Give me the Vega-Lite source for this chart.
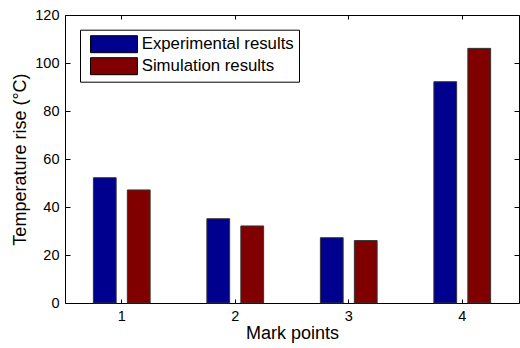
{
  "$schema": "https://vega.github.io/schema/vega-lite/v6.json",
  "width": 454,
  "height": 288,
  "autosize": {"type": "none"},
  "padding": {"left": 65, "top": 15, "right": 1, "bottom": 45},
  "background": "white",
  "config": {
    "view": {"stroke": "black", "strokeWidth": 1},
    "font": "Liberation Sans",
    "axis": {
      "labelFont": "Liberation Sans",
      "titleFont": "Liberation Sans",
      "labelColor": "black",
      "titleColor": "black",
      "tickColor": "black",
      "tickWidth": 1,
      "grid": false,
      "domain": false,
      "titleFontWeight": "normal"
    }
  },
  "data": {
    "values": [
      {"point": "1", "series": "Experimental results", "value": 52.2},
      {"point": "1", "series": "Simulation results", "value": 47.1},
      {"point": "2", "series": "Experimental results", "value": 35.1},
      {"point": "2", "series": "Simulation results", "value": 32.1},
      {"point": "3", "series": "Experimental results", "value": 27.2},
      {"point": "3", "series": "Simulation results", "value": 26.0},
      {"point": "4", "series": "Experimental results", "value": 92.2},
      {"point": "4", "series": "Simulation results", "value": 106.1}
    ]
  },
  "layer": [
    {
      "mark": {"type": "bar", "stroke": "#333", "strokeWidth": 1},
      "encoding": {
        "x": {
          "field": "point",
          "type": "nominal",
          "scale": {"paddingInner": 0.5, "paddingOuter": 0.25},
          "axis": {
            "orient": "bottom",
            "labelAngle": 0,
            "bandPosition": 0.5,
            "tickSize": -4,
            "labelPadding": 10,
            "labelFontSize": 14.5,
            "title": "Mark points",
            "titleFontSize": 18,
            "titlePadding": 2
          }
        },
        "xOffset": {
          "field": "series",
          "type": "nominal",
          "sort": ["Experimental results", "Simulation results"],
          "scale": {"paddingInner": 0.33, "paddingOuter": 0}
        },
        "y": {
          "field": "value",
          "type": "quantitative",
          "stack": null,
          "scale": {"domain": [0, 120], "nice": false},
          "axis": {
            "orient": "left",
            "values": [0, 20, 40, 60, 80, 100, 120],
            "tickSize": -5,
            "labelPadding": 11,
            "labelFontSize": 14.5,
            "title": "Temperature rise (°C)",
            "titleFontSize": 18,
            "titlePadding": 5
          }
        },
        "color": {
          "field": "series",
          "type": "nominal",
          "scale": {
            "domain": ["Experimental results", "Simulation results"],
            "range": ["#00008F", "#800000"]
          },
          "legend": {
            "orient": "none",
            "legendX": 15,
            "legendY": 14.7,
            "title": null,
            "strokeColor": "black",
            "fillColor": "white",
            "padding": 5,
            "cornerRadius": 0,
            "labelFont": "Liberation Sans",
            "labelFontSize": 16.8,
            "labelColor": "black",
            "symbolType": "M-1,-0.944H4.22V0.944H-1Z",
            "symbolSize": 324,
            "symbolStrokeColor": "black",
            "symbolStrokeWidth": 1,
            "symbolOpacity": 1,
            "symbolOffset": 5,
            "labelOffset": 32.7,
            "rowPadding": 1
          }
        }
      }
    },
    {
      "mark": {"type": "bar", "opacity": 0},
      "encoding": {
        "x": {
          "field": "point",
          "type": "nominal",
          "axis": {
            "orient": "top",
            "bandPosition": 0.5,
            "tickSize": -4,
            "labels": false,
            "title": null
          }
        },
        "y": {
          "field": "value",
          "type": "quantitative",
          "stack": null,
          "axis": {
            "orient": "right",
            "values": [0, 20, 40, 60, 80, 100, 120],
            "tickSize": -5,
            "labels": false,
            "title": null
          }
        }
      }
    }
  ],
  "resolve": {"axis": {"x": "independent", "y": "independent"}}
}
